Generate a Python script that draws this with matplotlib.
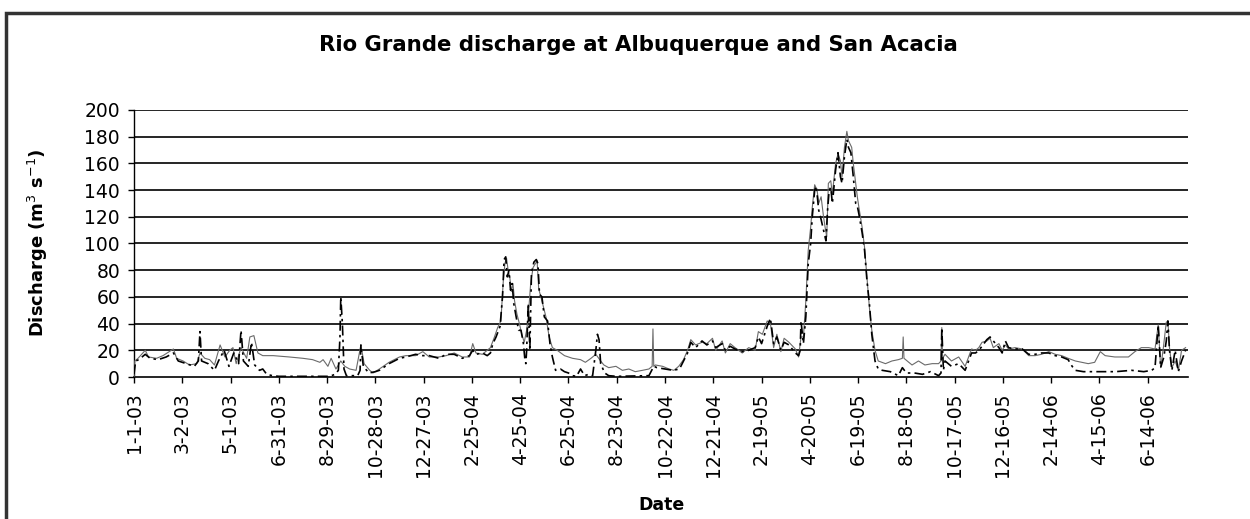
import matplotlib
matplotlib.use("Agg")
import matplotlib.pyplot as plt
from matplotlib.patches import Rectangle

# ---------------- data (day index since 1-1-03, discharge m3/s) ----------------
tick_labels = ["1-1-03", "3-2-03", "5-1-03", "6-31-03", "8-29-03", "10-28-03",
               "12-27-03", "2-25-04", "4-25-04", "6-25-04", "8-23-04", "10-22-04",
               "12-21-04", "2-19-05", "4-20-05", "6-19-05", "8-18-05", "10-17-05",
               "12-16-05", "2-14-06", "4-15-06", "6-14-06"]
tick_days = [0, 60, 120, 180, 240, 300, 360, 420, 480, 540, 600, 660,
             720, 780, 840, 900, 960, 1020, 1080, 1140, 1200, 1260]

abq_day = [0, 1, 5, 14, 18, 28, 36, 49, 53, 61, 69, 78, 82, 88, 94, 100, 107, 113,
           119, 123, 127, 133, 140, 144, 149, 154, 160, 173, 193, 210, 222, 231,
           235, 241, 245, 251, 257, 262, 268, 276, 282, 286, 293, 297, 305, 317,
           330, 338, 350, 359, 367, 379, 388, 398, 408, 417, 421, 425, 433, 439,
           443, 448, 452, 456, 459, 461, 463, 465, 467, 469, 471, 473, 476, 479,
           482, 485, 488, 490, 493, 496, 499, 501, 503, 507, 512, 516, 520, 526,
           535, 545, 555, 561, 568, 574, 580, 584, 590, 599, 607, 615, 623, 632,
           640, 644, 645, 646, 648, 657, 665, 671, 677, 683, 688, 692, 698, 706,
           712, 719, 723, 731, 735, 741, 747, 756, 764, 772, 776, 781, 787, 791,
           795, 799, 804, 808, 814, 822, 826, 829, 832, 835, 838, 841, 843, 846,
           849, 851, 854, 857, 859, 861, 863, 866, 868, 872, 875, 878, 880, 883,
           886, 888, 892, 894, 897, 899, 901, 905, 908, 911, 914, 917, 921, 925,
           934, 942, 950, 955, 956, 957, 961, 967, 975, 983, 992, 1000, 1003, 1004,
           1005, 1008, 1016, 1025, 1033, 1041, 1046, 1050, 1054, 1060, 1064, 1068,
           1075, 1079, 1083, 1087, 1095, 1104, 1112, 1120, 1128, 1137, 1145, 1153,
           1161, 1170, 1178, 1186, 1194, 1201, 1207, 1219, 1236, 1244, 1252, 1261,
           1269, 1273, 1276, 1279, 1283, 1285, 1287, 1290, 1294, 1298, 1302, 1307]
abq_q = [0, 12, 14, 20, 15, 14, 16, 21, 14, 12, 9, 10, 18, 14, 13, 9, 24, 15,
         20, 22, 10, 22, 14, 30, 31, 18, 16, 16, 15, 14, 13, 11,
         13, 8, 14, 6, 12, 8, 6, 5, 24, 10, 5, 3, 6, 11,
         15, 16, 16, 19, 15, 15, 16, 18, 15, 15, 25, 18, 17, 20,
         22, 30, 37, 42, 72, 85, 89, 80, 75, 64, 70, 57, 47, 40,
         32, 26, 35, 45, 70, 82, 85, 87, 66, 57, 45, 30, 22, 20,
         16, 14, 13, 11, 14, 17, 12, 9, 7, 8, 5, 6, 4, 5,
         6, 8, 36, 8, 9, 8, 6, 5, 8, 13, 20, 28, 24, 26,
         25, 29, 20, 27, 18, 25, 22, 18, 22, 20, 34, 32, 42, 40,
         22, 32, 19, 29, 26, 21, 15, 30, 30, 57, 95, 112, 127, 144,
         140, 130, 135, 120, 112, 105, 145, 147, 137, 160, 167, 162, 150, 172,
         184, 177, 172, 160, 145, 135, 127, 112, 97, 75, 52, 35, 20, 12,
         10, 12, 13, 14, 30, 14, 12, 9, 12, 9, 10, 10, 12, 37,
         14, 17, 12, 15, 8, 21, 20, 22, 26, 27, 29, 22,
         25, 20, 24, 21, 22, 21, 16, 16, 17, 19, 17, 16,
         14, 12, 11, 10, 11, 19, 16, 15, 15, 19, 22, 22,
         21, 39, 7, 20, 41, 42, 22, 7, 12, 5, 20, 22]

sa_day = [0, 2, 6, 14, 20, 30, 40, 49, 55, 65, 75, 80, 82, 84, 92, 100, 105, 112,
          118, 124, 130, 133, 136, 142, 146, 150, 156, 160, 165, 172, 180, 200,
          220, 243, 250, 254, 256, 257, 259, 261, 264, 270, 278, 281, 282, 285,
          292, 300, 305, 317, 330, 338, 350, 359, 367, 379, 388, 398, 408, 417,
          421, 425, 433, 439, 443, 446, 450, 455, 458, 460, 462, 464, 466, 468,
          470, 472, 475, 478, 481, 484, 486, 487, 488, 490, 492, 494, 497, 500,
          502, 504, 507, 510, 514, 517, 520, 524, 530, 535, 540, 545, 550, 555,
          560, 565, 570, 574, 576, 578, 580, 585, 590, 600, 640, 646, 650, 660,
          670, 678, 683, 688, 692, 698, 706, 712, 719, 723, 731, 735, 741, 747,
          756, 764, 772, 776, 780, 787, 791, 795, 799, 804, 808, 814, 822, 826,
          828, 829, 832, 835, 838, 841, 843, 846, 848, 851, 854, 857, 860, 862,
          864, 866, 868, 872, 875, 878, 880, 883, 886, 888, 891, 894, 897, 899,
          901, 905, 908, 911, 914, 917, 921, 925, 930, 940, 950, 955, 960, 970,
          980, 990, 1000, 1003, 1004, 1006, 1008, 1016, 1025, 1033, 1041, 1046,
          1050, 1054, 1060, 1064, 1068, 1075, 1079, 1083, 1087, 1095, 1104, 1112,
          1120, 1128, 1137, 1145, 1153, 1161, 1166, 1170, 1180, 1200, 1220, 1240,
          1255, 1265, 1269, 1273, 1276, 1280, 1283, 1285, 1287, 1290, 1294, 1298,
          1302, 1307]
sa_q = [2, 12, 13, 17, 14, 13, 15, 18, 12, 10, 8, 12, 34, 12, 10, 5, 12, 20,
        8, 18, 10, 35, 12, 8, 26, 9, 5, 6, 2, 1, 0.5, 0.5,
        0.5, 0.5, 2, 5, 30, 60, 40, 6, 1, 1, 1, 5, 24, 8,
        3, 4, 5, 10, 14, 15, 17, 16, 16, 14, 17, 17, 14, 16,
        20, 17, 18, 16, 18, 25, 30, 38, 60, 88, 90, 75, 80, 65,
        70, 55, 45, 35, 35, 25, 12, 10, 20, 55, 20, 78, 86, 88,
        85, 62, 60, 45, 42, 25, 15, 5, 6, 4, 3, 1, 0.5, 6,
        1, 2, 1, 20, 32, 28, 10, 3, 1, 0.5, 1, 8, 7, 6,
        5, 6, 12, 18, 26, 22, 27, 24, 27, 22, 25, 20, 23, 21,
        19, 20, 22, 30, 25, 38, 44, 25, 30, 20, 26, 24, 18, 16,
        20, 42, 25, 45, 85, 100, 120, 140, 143, 125, 118, 110, 102, 125,
        140, 142, 130, 155, 168, 150, 145, 165, 178, 172, 168, 150, 130, 128,
        122, 108, 95, 72, 55, 32, 12, 6, 5, 4, 1, 7, 3, 3,
        2, 4, 1, 3, 37, 5, 12, 8, 10, 5, 18, 18,
        20, 23, 28, 30, 27, 22, 18, 27, 22, 21, 21, 17,
        17, 18, 18, 16, 15, 13, 8, 5, 4, 4, 4, 5,
        4, 5, 7, 39, 7, 15, 27, 42, 20, 5, 20, 4,
        12, 20]

# ---------------- figure ----------------
plt.rcParams['font.family'] = ['DejaVu Sans']
fig = plt.figure(figsize=(12.5, 5.19), dpi=100)
ax = fig.add_axes([0.1072, 0.2736, 0.8432, 0.5145])

ax.plot(abq_day, abq_q, color='#6a6a6a', lw=0.8, label='Albuquerque', zorder=3)
ax.plot(sa_day, sa_q, color='black', lw=1.2, linestyle=(0, (6, 2.5, 1.5, 2.5)),
        label='San Acacia', zorder=4)

ax.set_xlim(0, 1310)
ax.set_ylim(0, 200)
ax.set_yticks(range(0, 201, 20))
ax.set_xticks(tick_days)
ax.set_xticklabels(tick_labels, rotation=90)
for y in range(20, 201, 20):
    ax.axhline(y, color='black', lw=1.2, zorder=1)

for s in ['top', 'right']:
    ax.spines[s].set_visible(False)
ax.spines['left'].set_linewidth(1.0)
ax.spines['bottom'].set_linewidth(1.2)
ax.tick_params(axis='both', direction='out', length=4, width=1.0,
               labelsize=13.5, pad=6)
ax.tick_params(axis='x', pad=7)

fig.text(0.0304, 0.532, 'Discharge (m$^3$ s$^{-1}$)', fontsize=13,
         fontweight='bold', rotation=90, ha='center', va='center')
fig.text(0.529, 0.027, 'Date', fontsize=12.5, fontweight='bold', ha='center',
         va='center')
fig.text(0.511, 0.913, 'Rio Grande discharge at Albuquerque and San Acacia',
         fontsize=15.3, fontweight='bold', ha='center', va='center')

# outer frame
fig.patches.append(Rectangle((0.005, -0.2), 1.2, 0.2 + 0.975, transform=fig.transFigure,
                             fill=False, edgecolor='#333333', lw=2.5))

fig.savefig('out.png', dpi=100)
